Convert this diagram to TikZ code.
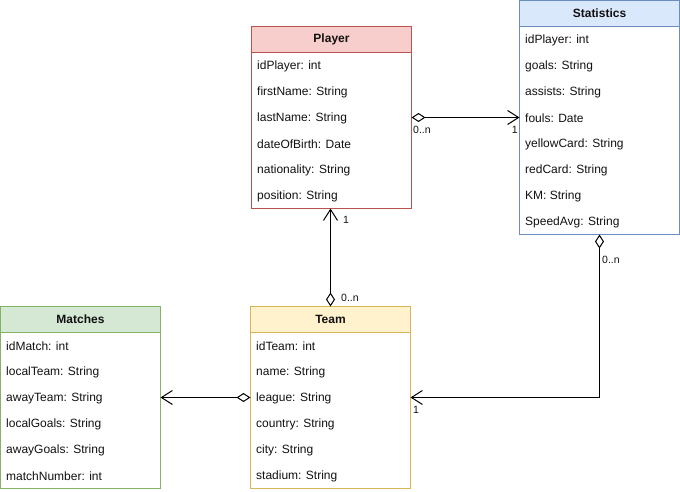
\documentclass[tikz,border=0pt]{standalone}
\usepackage{fontspec}
\setmainfont{Liberation Sans}
\usetikzlibrary{arrows.meta}
\definecolor{redfill}{HTML}{F8CECC}
\definecolor{redline}{HTML}{B85450}
\definecolor{bluefill}{HTML}{DAE8FC}
\definecolor{blueline}{HTML}{6C8EBF}
\definecolor{greenfill}{HTML}{D5E8D4}
\definecolor{greenline}{HTML}{82B366}
\definecolor{yellowfill}{HTML}{FFF2CC}
\definecolor{yellowline}{HTML}{D6B656}
\definecolor{txt}{HTML}{111111}
\tikzset{
  classbox/.style={line width=1pt, minimum width=160pt, anchor=north west, inner sep=0pt, outer sep=0pt},
  headbox/.style={line width=1pt, minimum width=160pt, minimum height=26pt, anchor=north west, inner sep=0pt, outer sep=0pt, font=\fontsize{12}{14}\selectfont\bfseries, text=txt},
  rowtext/.style={anchor=west, inner sep=0pt, font=\fontsize{12}{14}\selectfont, text=txt},
  mult/.style={inner sep=0pt, font=\fontsize{10.5}{12}\selectfont, text=txt},
  agg/.style={line width=1pt, {Diamond[open,length=14pt,width=9pt]}-{Straight Barb[length=11pt,width=14pt]}},
}
\begin{document}
\begin{tikzpicture}[x=1pt,y=-1pt]
\useasboundingbox (0,0) rectangle (680,492);
% Player
\node[classbox, draw=redline, minimum height=182pt] (player) at (251.5,26.5) {};
\node[headbox, draw=redline, fill=redfill] (playerhead) at (251.5,26.5) {Player};
\node[rowtext] (p1) at (257,66.5) {idPlayer: int};
\node[rowtext] (p2) at (257,92.5) {firstName: String};
\node[rowtext] (p3) at (257,118.5) {lastName: String};
\node[rowtext] (p4) at (257,144.5) {dateOfBirth: Date};
\node[rowtext] (p5) at (257,170.5) {nationality: String};
\node[rowtext] (p6) at (257,196.5) {position: String};
% Statistics
\node[classbox, draw=blueline, minimum height=234pt] (stats) at (519.5,0.5) {};
\node[headbox, draw=blueline, fill=bluefill] (statshead) at (519.5,0.5) {Statistics};
\node[rowtext] (s1) at (525,40.5) {idPlayer: int};
\node[rowtext] (s2) at (525,66.5) {goals: String};
\node[rowtext] (s3) at (525,92.5) {assists: String};
\node[rowtext] (s4) at (525,118.5) {fouls: Date};
\node[rowtext] (s5) at (525,144.5) {yellowCard: String};
\node[rowtext] (s6) at (525,170.5) {redCard: String};
\node[rowtext] (s7) at (525,196.5) {KM: String};
\node[rowtext] (s8) at (525,222.5) {SpeedAvg: String};
% Matches
\node[classbox, draw=greenline, minimum height=182pt] (matches) at (0.5,306.5) {};
\node[headbox, draw=greenline, fill=greenfill] (matcheshead) at (0.5,306.5) {Matches};
\node[rowtext] (m1) at (6,346.5) {idMatch: int};
\node[rowtext] (m2) at (6,372.5) {localTeam: String};
\node[rowtext] (m3) at (6,398.5) {awayTeam: String};
\node[rowtext] (m4) at (6,424.5) {localGoals: String};
\node[rowtext] (m5) at (6,450.5) {awayGoals: String};
\node[rowtext] (m6) at (6,476.5) {matchNumber: int};
% Team
\node[classbox, draw=yellowline, minimum height=182pt] (team) at (250.5,306.5) {};
\node[headbox, draw=yellowline, fill=yellowfill] (teamhead) at (250.5,306.5) {Team};
\node[rowtext] (t1) at (256,346.5) {idTeam: int};
\node[rowtext] (t2) at (256,372.5) {name: String};
\node[rowtext] (t3) at (256,398.5) {league: String};
\node[rowtext] (t4) at (256,424.5) {country: String};
\node[rowtext] (t5) at (256,450.5) {city: String};
\node[rowtext] (t6) at (256,476.5) {stadium: String};
% connectors
\draw[agg] (player.east) -- (stats.west);
\draw[agg] (team.north) -- (team.north |- player.south);
\draw[agg] (team.west) -- (matches.east);
\draw[agg] (stats.south) -- (stats.south |- team.east) -- (team.east);
% multiplicities
\node[mult, anchor=west] (l1) at (413,130) {0..n};
\node[mult, anchor=east] (l2) at (518,130) {1};
\node[mult, anchor=west] (l3) at (343,220) {1};
\node[mult, anchor=west] (l4) at (341,298) {0..n};
\node[mult, anchor=west] (l5) at (602,260) {0..n};
\node[mult, anchor=west] (l6) at (413,410) {1};
\end{tikzpicture}
\end{document}
